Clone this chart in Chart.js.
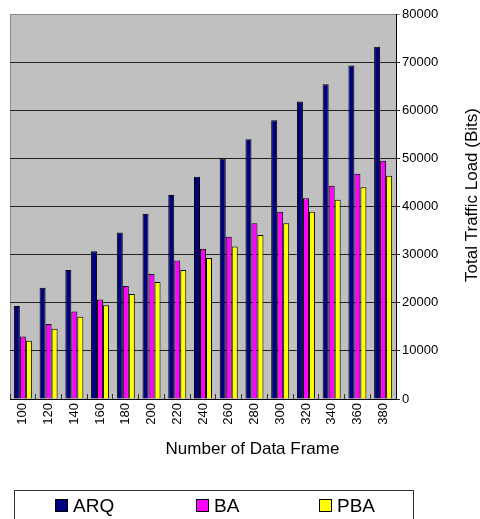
<!DOCTYPE html>
<html>
<head>
<meta charset="utf-8">
<script src="https://cdn.jsdelivr.net/npm/chart.js@4"></script>
<style>
  html, body { margin: 0; padding: 0; background: #fff; }
  canvas { display: block; }
</style>
</head>
<body>
<canvas id="c" width="480" height="519"></canvas>
<script>
// Number of data frames sent (x categories)
const frames = ['100', '120', '140', '160', '180', '200', '220', '240', '260', '280', '300', '320', '340', '360', '380'];

// Total traffic load in bits for each scheme
const arq = [19300, 23100, 26800, 30700, 34600, 38500, 42400, 46200, 50000, 54000, 57900, 61800, 65400, 69300, 73200];
const ba  = [13000, 15600, 18200, 20700, 23500, 26000, 28800, 31200, 33700, 36500, 38900, 41700, 44300, 46800, 49500];
const pba = [12100, 14600, 17100, 19500, 21800, 24300, 26800, 29300, 31700, 34100, 36500, 38900, 41400, 44000, 46400];

const seriesNames = ['ARQ', 'BA', 'PBA'];
const seriesColors = ['#000080', '#ff00ff', '#ffff00'];

const xTitle = 'Number of Data Frame';
const yTitle = 'Total Traffic Load (Bits)';
const yMax = 80000;
const yStep = 10000;

const FONT = '"Liberation Sans", Arial, Helvetica, sans-serif';

// Grey plot panel behind the bars
const plotPanel = {
  id: 'plotPanel',
  beforeDraw(chart) {
    const { ctx, chartArea: a } = chart;
    ctx.save();
    ctx.fillStyle = '#c0c0c0';
    ctx.fillRect(a.left, a.top, a.right - a.left, a.bottom - a.top);
    ctx.strokeStyle = '#8c8c8c';
    ctx.lineWidth = 1;
    ctx.beginPath();
    ctx.moveTo(a.left + 0.5, a.bottom);
    ctx.lineTo(a.left + 0.5, a.top + 0.5);
    ctx.lineTo(a.right, a.top + 0.5);
    ctx.stroke();
    ctx.restore();
  }
};

// Axis titles and the boxed legend underneath the chart
const titlesAndLegend = {
  id: 'titlesAndLegend',
  afterDraw(chart) {
    const ctx = chart.ctx;
    ctx.save();
    ctx.fillStyle = '#000';

    // x-axis title
    ctx.font = '17px ' + FONT;
    ctx.textAlign = 'center';
    ctx.textBaseline = 'alphabetic';
    ctx.fillText(xTitle, 252.5, 454);

    // y-axis title, reading bottom to top
    ctx.save();
    ctx.translate(477, 195);
    ctx.rotate(-Math.PI / 2);
    ctx.fillText(yTitle, 0, 0);
    ctx.restore();

    // legend frame
    ctx.strokeStyle = '#303030';
    ctx.lineWidth = 1;
    ctx.strokeRect(14.5, 490.5, 399, 40);

    // legend entries
    const itemX = [55, 196, 319];
    ctx.font = '19px ' + FONT;
    ctx.textAlign = 'left';
    chart.data.datasets.forEach((ds, i) => {
      const x = itemX[i];
      ctx.fillStyle = ds.backgroundColor;
      ctx.fillRect(x, 499, 13, 13);
      ctx.strokeStyle = '#000';
      ctx.strokeRect(x + 0.5, 499.5, 12, 12);
      ctx.fillStyle = '#000';
      ctx.fillText(ds.label, x + 18, 512);
    });
    ctx.restore();
  }
};

const seriesValues = [arq, ba, pba];

new Chart(document.getElementById('c'), {
  type: 'bar',
  data: {
    labels: frames,
    datasets: seriesNames.map((name, i) => ({
      label: name,
      data: seriesValues[i],
      backgroundColor: seriesColors[i],
      borderColor: '#000',
      borderWidth: 1,
      categoryPercentage: 0.7,
      barPercentage: 1.0
    }))
  },
  options: {
    responsive: false,
    animation: false,
    layout: { padding: { left: 10, top: 14, right: 0, bottom: 0 } },
    plugins: {
      legend: { display: false },
      tooltip: { enabled: false },
      title: { display: false }
    },
    scales: {
      x: {
        ticks: {
          color: '#000',
          font: { family: FONT, size: 13 },
          minRotation: 90,
          maxRotation: 90,
          autoSkip: false,
          padding: 9
        },
        grid: {
          offset: true,
          drawOnChartArea: false,
          drawTicks: true,
          tickLength: -5,
          color: '#333'
        },
        border: { color: '#000', width: 1 },
        afterFit(scale) { scale.height = 120; }
      },
      y: {
        position: 'right',
        min: 0,
        max: yMax,
        ticks: {
          stepSize: yStep,
          color: '#000',
          font: { family: FONT, size: 13 },
          padding: 2,
          callback: (v) => String(v)
        },
        grid: {
          color: (c) => (c.tick && c.tick.value === yMax ? '#8c8c8c' : '#222'),
          lineWidth: 1,
          drawTicks: true,
          tickLength: 4
        },
        border: { color: '#000', width: 1 },
        afterFit(scale) { scale.width = 84; }
      }
    }
  },
  plugins: [plotPanel, titlesAndLegend]
});
</script>
</body>
</html>
